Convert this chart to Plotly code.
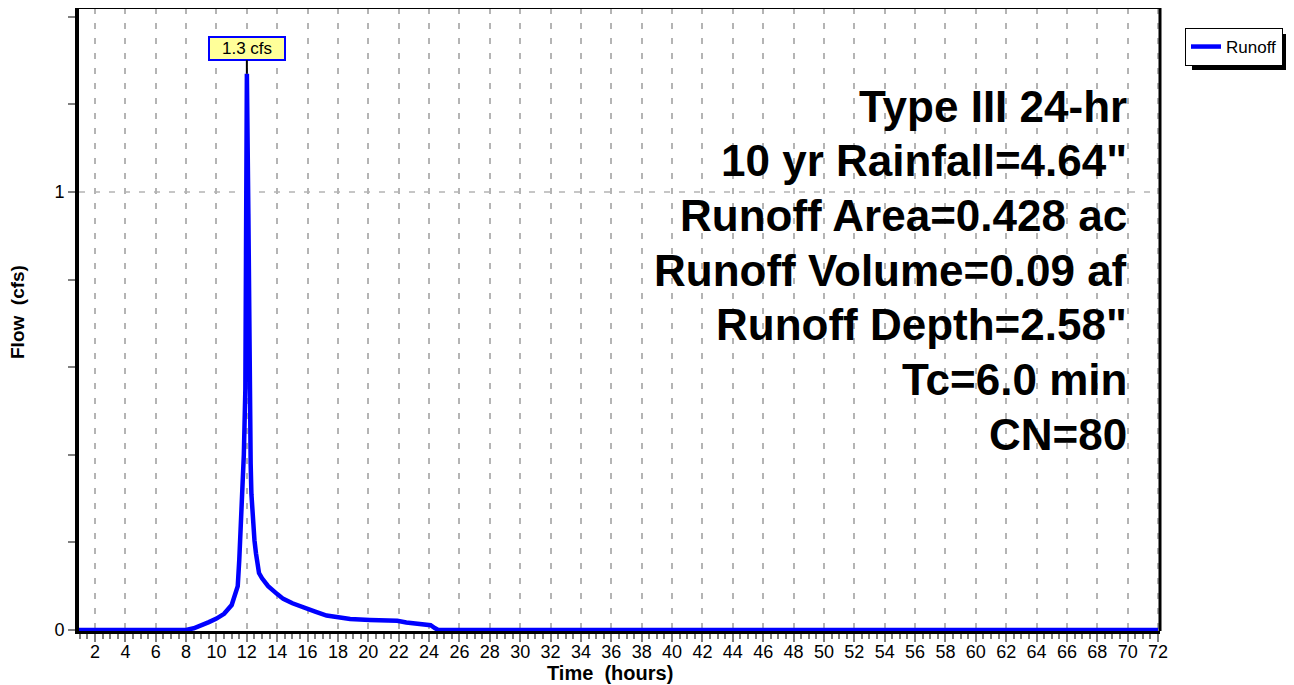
import plotly.graph_objects as go

# ---- data ----
hours = [0, 8.0, 8.5, 9.0, 9.5, 10.0, 10.5, 11.0, 11.2, 11.4, 11.5, 11.6, 11.7, 11.8, 11.9,
         12.0, 12.1, 12.15, 12.2, 12.25, 12.3, 12.4, 12.5, 12.6, 12.7, 12.8, 13.0, 13.4,
         14.0, 14.4, 15.0, 15.7, 16.5, 17.25, 18.0, 18.8, 20.1, 21.9, 22.5, 23.8, 24.1,
         24.4, 24.6, 72]
flow_cfs = [0, 0, 0.004, 0.010, 0.018, 0.026, 0.037, 0.057, 0.075, 0.10, 0.16, 0.23, 0.33,
            0.40, 0.55, 1.27, 0.95, 0.66, 0.50, 0.38, 0.31, 0.25, 0.205, 0.175, 0.15, 0.13,
            0.118, 0.100, 0.082, 0.071, 0.061, 0.051, 0.042, 0.033, 0.028, 0.025, 0.023,
            0.021, 0.017, 0.014, 0.011, 0.004, 0, 0]
series_name = "Runoff"
peak_label = "1.3 cfs"
info_lines = [
    "Type III 24-hr",
    "10 yr Rainfall=4.64\"",
    "Runoff Area=0.428 ac",
    "Runoff Volume=0.09 af",
    "Runoff Depth=2.58\"",
    "Tc=6.0 min",
    "CN=80",
]
y_tick_vals = [0, 0.2, 0.4, 0.6, 0.8, 1.0, 1.2, 1.4]
y_tick_text = ["0", "", "", "", "", "1", "", ""]

# ---- layout geometry (page pixels; page body has an 8px margin) ----
PAGE_W, PAGE_H = 1294, 685
OFF = 8
W, H = PAGE_W - OFF, PAGE_H - OFF
L, R, T, B = 79, 1160, 8, 631          # plot area in page pixels
FONT = "Liberation Sans, Arial, sans-serif"


def py(ypx):
    return (B - ypx) / (B - T)


def px(xpx):
    return (xpx - L) / (R - L)


fig = go.Figure()
fig.add_trace(go.Scatter(x=hours, y=flow_cfs, mode="lines", name=series_name,
                         line=dict(color="#0000ff", width=4.5), showlegend=True))

peak_i = max(range(len(flow_cfs)), key=lambda i: flow_cfs[i])

annotations = [
    dict(x=hours[peak_i], y=flow_cfs[peak_i], xref="x", yref="y", text=peak_label,
         showarrow=True, arrowhead=0, arrowwidth=2, arrowcolor="black", ax=0, ay=-25,
         bgcolor="#ffff99", bordercolor="#0000ff", borderwidth=2, borderpad=1,
         width=72, height=19, font=dict(family=FONT, size=17, color="black")),
    dict(x=px(610), y=py(673), xref="paper", yref="paper", text="<b>Time  (hours)</b>",
         showarrow=False, font=dict(family=FONT, size=20, color="black"),
         xanchor="center", yanchor="middle"),
    dict(x=px(17), y=py(312), xref="paper", yref="paper", text="<b>Flow  (cfs)</b>",
         showarrow=False, textangle=-90, font=dict(family=FONT, size=19, color="black"),
         xanchor="center", yanchor="middle"),
]
line_y0 = 106
line_dy = 54.7
for i, t in enumerate(info_lines):
    annotations.append(dict(x=px(1129), y=py(line_y0 + i * line_dy), xref="paper", yref="paper",
                            text="<b>" + t + "</b>", showarrow=False,
                            xanchor="right", yanchor="middle",
                            font=dict(family=FONT, size=44, color="black")))

shapes = [
    # horizontal grid at 1 cfs
    dict(type="line", xref="paper", yref="y", x0=0, x1=1, y0=1, y1=1,
         line=dict(color="#b4b4b4", width=1.5, dash="6px,9px"), layer="below"),
    # frame top / right
    dict(type="line", xref="paper", yref="paper", x0=0, x1=1, y0=1, y1=1,
         line=dict(color="black", width=2)),
    dict(type="line", xref="paper", yref="paper", x0=1, x1=1, y0=0, y1=1,
         line=dict(color="black", width=3)),
    # legend shadow
    dict(type="rect", xref="paper", yref="paper",
         x0=px(1192), x1=px(1288), y0=py(70), y1=py(34),
         fillcolor="black", line=dict(width=0), layer="below"),
]

fig.update_layout(
    width=W, height=H,
    margin=dict(l=L - OFF, r=W - (R - OFF), t=T - OFF, b=H - (B - OFF)),
    paper_bgcolor="white", plot_bgcolor="white",
    font=dict(family=FONT, size=17, color="black"),
    showlegend=True,
    legend=dict(x=px(1283), y=py(28), xanchor="right", yanchor="top",
                bgcolor="white", bordercolor="black", borderwidth=1,
                font=dict(family=FONT, size=17, color="black"),
                itemwidth=30, tracegroupgap=0),
    annotations=annotations,
    shapes=shapes,
    xaxis=dict(range=[0.946, 72.13], tickmode="linear", tick0=0, dtick=2,
               showgrid=True, gridcolor="#b4b4b4", gridwidth=1.5, griddash="6px,9px",
               zeroline=False, showline=True, linecolor="black", linewidth=3,
               ticks="outside", ticklen=8, tickcolor="#808080", tickwidth=1.5,
               ticklabelstandoff=-6,
               minor=dict(dtick=0.5, tick0=0, ticks="outside", ticklen=5,
                          tickcolor="#808080", tickwidth=1.5, showgrid=False),
               tickfont=dict(family=FONT, size=18, color="black")),
    yaxis=dict(range=[-0.00228, 1.4201], tickmode="array", tickvals=y_tick_vals,
               ticktext=y_tick_text, showgrid=False, zeroline=False,
               showline=True, linecolor="black", linewidth=4,
               ticks="outside", ticklen=7, tickcolor="#808080", tickwidth=1.5,
               ticklabelstandoff=0,
               tickfont=dict(family=FONT, size=18, color="black")),
)

fig.write_html("out.html")
